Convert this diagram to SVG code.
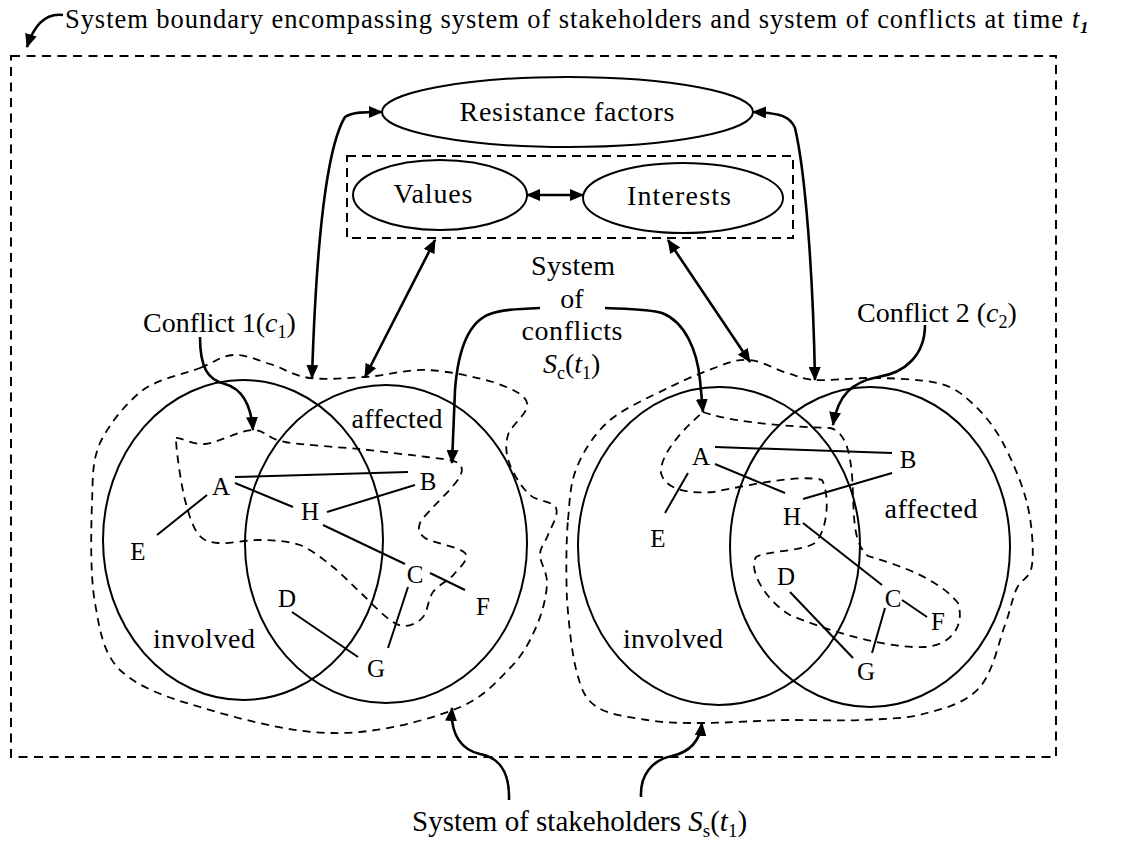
<svg xmlns="http://www.w3.org/2000/svg" width="1136" height="843" viewBox="0 0 1136 843">
<style>
text{font-family:"Liberation Serif","Times New Roman",serif;fill:#000}
.lbl{font-size:28px}
.node{font-size:25px;text-anchor:middle}
.ttl{font-size:26.5px}
.solid{fill:none;stroke:#000;stroke-width:2}
.dash{fill:none;stroke:#000;stroke-width:1.8;stroke-dasharray:8 6}
.bound{fill:none;stroke:#000;stroke-width:2;stroke-dasharray:9 6.5}
.conn{fill:none;stroke:#000;stroke-width:2.6}
.edge{fill:none;stroke:#000;stroke-width:2}
.it{font-style:italic}
</style>
<defs>
<marker id="ah" viewBox="0 0 14 12" refX="13" refY="6" markerWidth="14" markerHeight="12" markerUnits="userSpaceOnUse" orient="auto-start-reverse">
<path d="M0,0 L14,6 L0,12 z" fill="#000"/>
</marker>
</defs>
<rect width="1136" height="843" fill="#fff"/>

<g id="title">
<text class="ttl" x="65" y="28" textLength="998" lengthAdjust="spacing">System boundary encompassing system of stakeholders and system of conflicts at time</text>
<text class="ttl" x="1072" y="28" style="font-style:italic">t</text>
<text x="1080" y="33" style="font-size:17px;font-style:italic;font-weight:bold">1</text>
</g>

<g id="system-boundary">
<rect class="bound" x="11" y="56" width="1045" height="701"/>
</g>

<g id="resistance-factors">
<ellipse class="solid" cx="567.5" cy="112" rx="185.5" ry="35"/>
<text class="lbl" x="567" y="121" text-anchor="middle" textLength="215">Resistance factors</text>
</g>

<g id="values-interests-box">
<rect class="bound" x="347" y="156" width="446" height="82" style="stroke-dasharray:9 6"/>
</g>

<g id="values">
<ellipse class="solid" cx="440" cy="195" rx="87" ry="35"/>
<text class="lbl" x="433" y="203" text-anchor="middle" textLength="79">Values</text>
</g>

<g id="interests">
<ellipse class="solid" cx="683" cy="198" rx="100" ry="35"/>
<text class="lbl" x="679" y="205" text-anchor="middle" textLength="104">Interests</text>
</g>

<g id="system-of-conflicts-label">
<text class="lbl" x="573" y="275" text-anchor="middle" textLength="84">System</text>
<text class="lbl" x="572" y="308" text-anchor="middle">of</text>
<text class="lbl" x="572" y="340" text-anchor="middle" textLength="101">conflicts</text>
<text class="lbl" x="543" y="373"><tspan class="it">S</tspan><tspan style="font-size:18px" dy="6">c</tspan><tspan dy="-6">(</tspan><tspan class="it">t</tspan><tspan style="font-size:18px" dy="6">1</tspan><tspan dy="-6">)</tspan></text>
</g>

<g id="conflict-1-label">
<text class="lbl" x="143" y="332">Conflict 1(<tspan class="it">c</tspan><tspan style="font-size:18px" dy="6">1</tspan><tspan dy="-6">)</tspan></text>
</g>

<g id="conflict-2-label">
<text class="lbl" x="857" y="322">Conflict 2 (<tspan class="it">c</tspan><tspan style="font-size:18px" dy="6">2</tspan><tspan dy="-6">)</tspan></text>
</g>

<g id="stakeholders-label">
<text class="lbl" x="412" y="831" style="font-size:29px">System of stakeholders <tspan class="it">S</tspan><tspan style="font-size:19px" dy="6">s</tspan><tspan dy="-6">(</tspan><tspan class="it">t</tspan><tspan style="font-size:19px" dy="6">1</tspan><tspan dy="-6">)</tspan></text>
</g>

<g id="cluster-1">
<path class="dash" d="M200,368 C215,362 221,356 233,355 C245,354 257,360 270,364 C283,368 294,376 310,378 C326,380 346,378 365,377 C384,376 406,369 427,370 C448,371 476,377 493,382 C510,388 525,394 527,403 C530,412 511,425 508,435 C505,445 506,455 510,465 C514,475 522,488 530,495 C538,502 553,501 556,508 C559,515 551,527 548,535 C545,543 540,547 540,555 C540,563 548,573 547,585 C546,597 543,611 537,625 C531,639 524,654 510,668 C496,682 483,699 453,710 C424,721 375,734 333,733 C291,733 236,718 200,707 C165,697 138,687 120,670 C103,653 100,631 95,603 C90,575 91,530 92,503 C93,476 92,462 100,443 C109,424 126,403 143,390 C160,378 185,374 200,368 Z"/>
<ellipse class="solid" cx="243" cy="540" rx="140" ry="160"/>
<ellipse class="solid" cx="386" cy="544" rx="141" ry="159"/>
<path class="dash" d="M176,438 C180,437 192,445 205,444 C218,443 240,430 253,430 C266,430 267,439 285,442 C303,445 336,447 360,449 C384,452 411,455 427,457 C443,459 453,460 458,463 C463,467 463,471 459,478 C455,485 442,498 435,505 C428,513 422,518 420,523 C418,529 418,533 425,538 C433,543 460,547 465,553 C470,559 460,567 455,573 C450,580 438,585 433,592 C428,599 428,611 423,617 C418,623 410,626 405,626 C400,626 397,625 390,620 C383,615 371,603 362,594 C352,585 343,575 333,567 C323,559 312,550 300,545 C288,541 274,540 260,540 C246,540 228,544 218,543 C208,542 204,541 198,534 C193,527 189,516 185,500 C181,484 176,450 176,438 Z"/>
<text class="lbl" x="397" y="428" text-anchor="middle" textLength="91">affected</text>
<text class="lbl" x="204" y="648" text-anchor="middle" textLength="102">involved</text>
<g id="c1-edges">
<line class="edge" x1="235" y1="477" x2="408" y2="472"/>
<line class="edge" x1="235" y1="483" x2="293" y2="507"/>
<line class="edge" x1="327" y1="512" x2="415" y2="485"/>
<line class="edge" x1="157" y1="535" x2="207" y2="495"/>
<line class="edge" x1="323" y1="525" x2="405" y2="564"/>
<line class="edge" x1="430" y1="573" x2="465" y2="590"/>
<line class="edge" x1="408" y1="587" x2="388" y2="648"/>
<line class="edge" x1="292" y1="612" x2="358" y2="657"/>
</g>
<g id="c1-A"><text class="node" x="221" y="495">A</text></g>
<g id="c1-B"><text class="node" x="428" y="490">B</text></g>
<g id="c1-H"><text class="node" x="310" y="520">H</text></g>
<g id="c1-E"><text class="node" x="138" y="560">E</text></g>
<g id="c1-C"><text class="node" x="415" y="583">C</text></g>
<g id="c1-D"><text class="node" x="287" y="607">D</text></g>
<g id="c1-F"><text class="node" x="483" y="615">F</text></g>
<g id="c1-G"><text class="node" x="376" y="677">G</text></g>
</g>

<g id="cluster-2">
<path class="dash" d="M568,520 C570,498 570,484 577,467 C584,450 595,433 610,420 C626,407 652,396 670,387 C688,378 704,372 717,367 C730,362 738,359 750,360 C762,361 776,370 787,373 C798,376 801,379 815,380 C829,381 850,378 870,378 C890,378 920,379 937,383 C954,387 961,393 972,403 C983,413 994,426 1003,443 C1012,460 1022,483 1027,503 C1032,523 1034,551 1032,565 C1030,579 1022,578 1017,588 C1012,598 1011,609 1005,625 C999,641 993,672 980,687 C967,702 947,708 927,713 C907,719 882,719 860,720 C838,721 819,720 793,720 C767,720 727,723 703,723 C679,723 665,723 647,720 C629,717 609,715 597,707 C585,699 582,691 577,673 C572,655 569,626 567,600 C566,575 566,542 568,520 Z"/>
<ellipse class="solid" cx="719" cy="546" rx="141" ry="159"/>
<ellipse class="solid" cx="870" cy="547" rx="140" ry="160"/>
<path class="dash" d="M703,412 C725,420 770,426 830,428 C848,432 852,460 853,495 C854,525 855,545 868,556 C900,565 940,580 958,603 C965,625 952,645 925,647 C890,649 830,632 790,615 C765,600 748,570 756,557 C770,550 800,552 815,543 C828,530 830,495 822,480 C800,474 750,485 713,492 C690,494 665,490 661,473 C660,455 680,432 703,412 Z"/>
<text class="lbl" x="931" y="518" text-anchor="middle" textLength="93">affected</text>
<text class="lbl" x="673" y="648" text-anchor="middle" textLength="100">involved</text>
<g id="c2-edges">
<line class="edge" x1="715" y1="447" x2="892" y2="453"/>
<line class="edge" x1="715" y1="464" x2="785" y2="493"/>
<line class="edge" x1="803" y1="499" x2="892" y2="473"/>
<line class="edge" x1="688" y1="473" x2="665" y2="513"/>
<line class="edge" x1="803" y1="523" x2="882" y2="585"/>
<line class="edge" x1="902" y1="600" x2="927" y2="617"/>
<line class="edge" x1="885" y1="608" x2="872" y2="653"/>
<line class="edge" x1="790" y1="592" x2="853" y2="658"/>
</g>
<g id="c2-A"><text class="node" x="701" y="465">A</text></g>
<g id="c2-B"><text class="node" x="908" y="468">B</text></g>
<g id="c2-H"><text class="node" x="792" y="525">H</text></g>
<g id="c2-E"><text class="node" x="658" y="547">E</text></g>
<g id="c2-D"><text class="node" x="786" y="585">D</text></g>
<g id="c2-C"><text class="node" x="893" y="607">C</text></g>
<g id="c2-F"><text class="node" x="938" y="630">F</text></g>
<g id="c2-G"><text class="node" x="866" y="680">G</text></g>
</g>

<g id="connectors">
<path class="conn" d="M63,15 C47,13 35,22 27,47" marker-end="url(#ah)"/>
<path class="conn" d="M312,378 C316,250 325,150 345,117 C352,112 365,112 382,112" marker-start="url(#ah)" marker-end="url(#ah)"/>
<path class="conn" d="M815,380 C813,270 805,170 795,128 C790,116 780,113 753,112" marker-start="url(#ah)" marker-end="url(#ah)"/>
<path class="conn" d="M527,195 L583,195" marker-start="url(#ah)" marker-end="url(#ah)"/>
<path class="conn" d="M435,240 L365,377" marker-start="url(#ah)" marker-end="url(#ah)"/>
<path class="conn" d="M668,240 L750,362" marker-start="url(#ah)" marker-end="url(#ah)"/>
<path class="conn" d="M540,308 C515,309 500,310 490,314 C468,322 458,350 455,390 L452,463" marker-end="url(#ah)"/>
<path class="conn" d="M605,308 C630,309 650,309 662,313 C685,322 697,350 700,380 L703,412" marker-end="url(#ah)"/>
<path class="conn" d="M200,337 C200,368 208,380 225,384 C243,389 251,405 253,430" marker-end="url(#ah)"/>
<path class="conn" d="M925,325 C925,355 905,373 878,377 C852,382 838,395 833,425" marker-end="url(#ah)"/>
<path class="conn" d="M509,800 C510,770 497,757 480,754 C462,750 450,735 452,708" marker-end="url(#ah)"/>
<path class="conn" d="M641,797 C640,775 652,760 672,756 C690,752 700,740 702,723" marker-end="url(#ah)"/>
</g>
</svg>
